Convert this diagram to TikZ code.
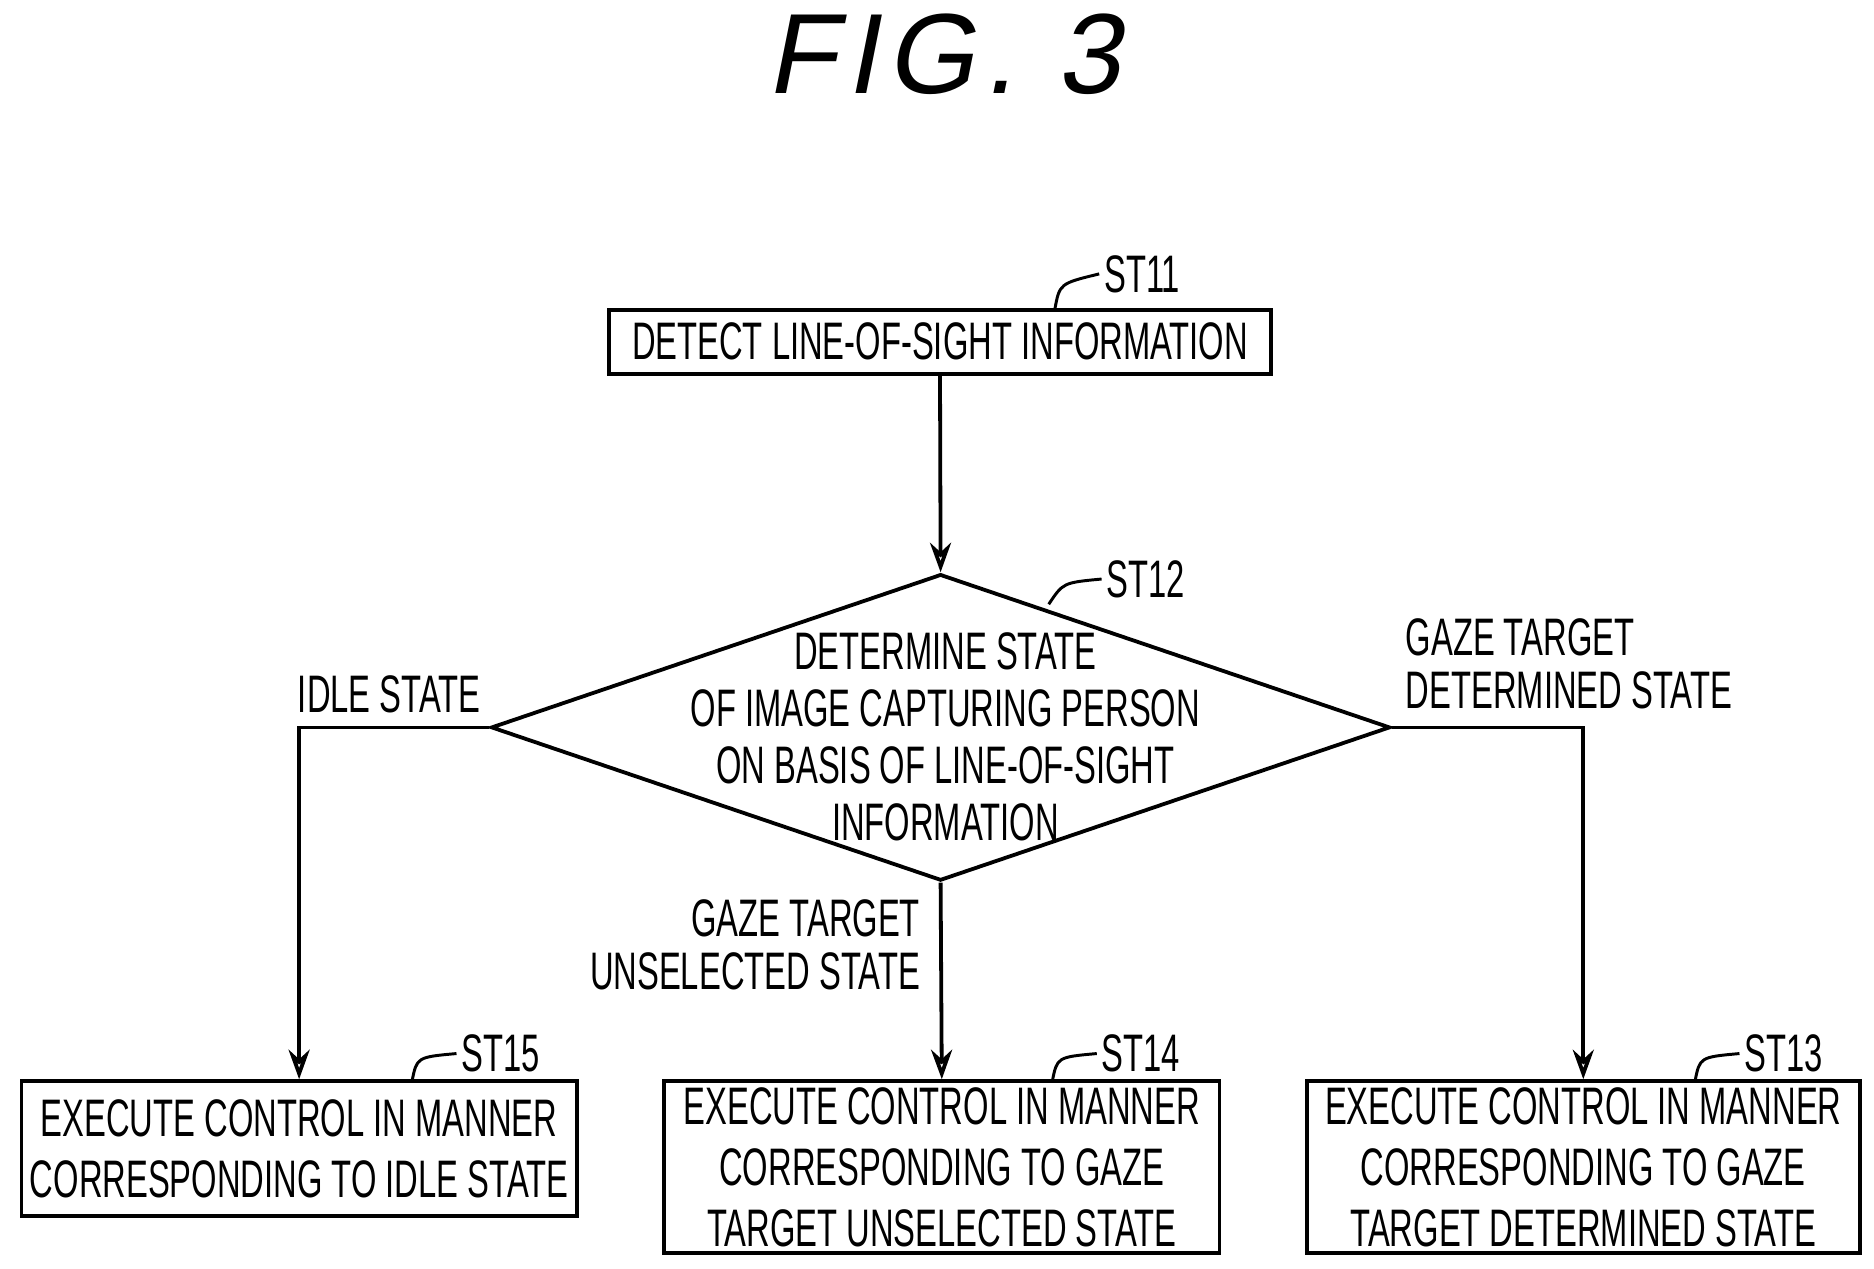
\documentclass[tikz,border=0pt]{standalone}
\usepackage{fontspec}
\setmainfont{Liberation Sans}[FakeStretch=0.62]
\newfontfamily\titlefont{Liberation Sans}[FakeSlant=0.2,LetterSpace=8]
\usetikzlibrary{shapes.geometric,arrows.meta}
\begin{document}
\begin{tikzpicture}[x=0.01cm,y=-0.01cm,
  box/.style={draw,line width=0.9pt,inner sep=0pt,align=center,font=\fontsize{12.5}{14.5}\selectfont},
  lbl/.style={font=\fontsize{12.5}{14.5}\selectfont,inner sep=1pt},
  arr/.style={line width=0.9pt,-{Stealth[length=7pt,width=5pt,open]}},
  ln/.style={line width=0.9pt},
  lead/.style={line width=0.7pt}]
\useasboundingbox (0,0) rectangle (1560,1056);
\node[font=\titlefont\fontsize{27}{30}\selectfont] (title) at (785,45) {FIG. 3};
\node[box,minimum width=551\pgflinewidth*0+5.51cm,minimum height=0.53cm] (st11) at (782.5,284.5) {DETECT LINE-OF-SIGHT INFORMATION};
\coordinate (d) at (783,605.5);
\node[draw,line width=0.9pt,diamond,aspect=2.94,minimum width=7.48cm,minimum height=2.55cm,inner sep=0pt] (st12) at (d) {};
\node[lbl,align=center] (dt) at (787,613) {DETERMINE STATE\\[-1pt]OF IMAGE CAPTURING PERSON\\[-1pt]ON BASIS OF LINE-OF-SIGHT\\[-1pt]INFORMATION};
\node[box,minimum width=4.62cm,minimum height=1.12cm] (st15) at (249,956) {EXECUTE CONTROL IN MANNER\\CORRESPONDING TO IDLE STATE};
\node[box,minimum width=4.62cm,minimum height=1.43cm] (st14) at (784,971.5) {EXECUTE CONTROL IN MANNER\\CORRESPONDING TO GAZE\\TARGET UNSELECTED STATE};
\node[box,minimum width=4.60cm,minimum height=1.43cm] (st13) at (1318,971.5) {EXECUTE CONTROL IN MANNER\\CORRESPONDING TO GAZE\\TARGET DETERMINED STATE};
% step labels
\node[lbl,anchor=west] (l11) at (915,228) {ST11};
\node[lbl,anchor=west] (l12) at (917,482) {ST12};
\node[lbl,anchor=west] (l15) at (380,877) {ST15};
\node[lbl,anchor=west] (l14) at (913,877) {ST14};
\node[lbl,anchor=west] (l13) at (1448,877) {ST13};
\draw[lead] (878,258) .. controls (882,236) .. (l11.west);
\draw[lead] (873,503) .. controls (885,485) .. (l12.west);
\draw[lead] (343,900) .. controls (347,880) .. (l15.west);
\draw[lead] (876,900) .. controls (880,880) .. (l14.west);
\draw[lead] (1411,900) .. controls (1415,880) .. (l13.west);
% connectors
\draw[arr] (st11.south) -- (st12.north);
\draw[arr] (st12.west) -| (st15.north);
\draw[arr] (st12.east) -| (st13.north);
\draw[arr] (st12.south) -- (st14.north);
% branch labels
\node[lbl] (idle) at (324,578) {IDLE STATE};
\node[lbl,anchor=south west,align=left] (gd) at (1166,594) {GAZE TARGET\\[-2pt]DETERMINED STATE};
\node[lbl,anchor=north east,align=right] (gu) at (770,745) {GAZE TARGET\\[-2pt]UNSELECTED STATE};
\end{tikzpicture}
\end{document}
